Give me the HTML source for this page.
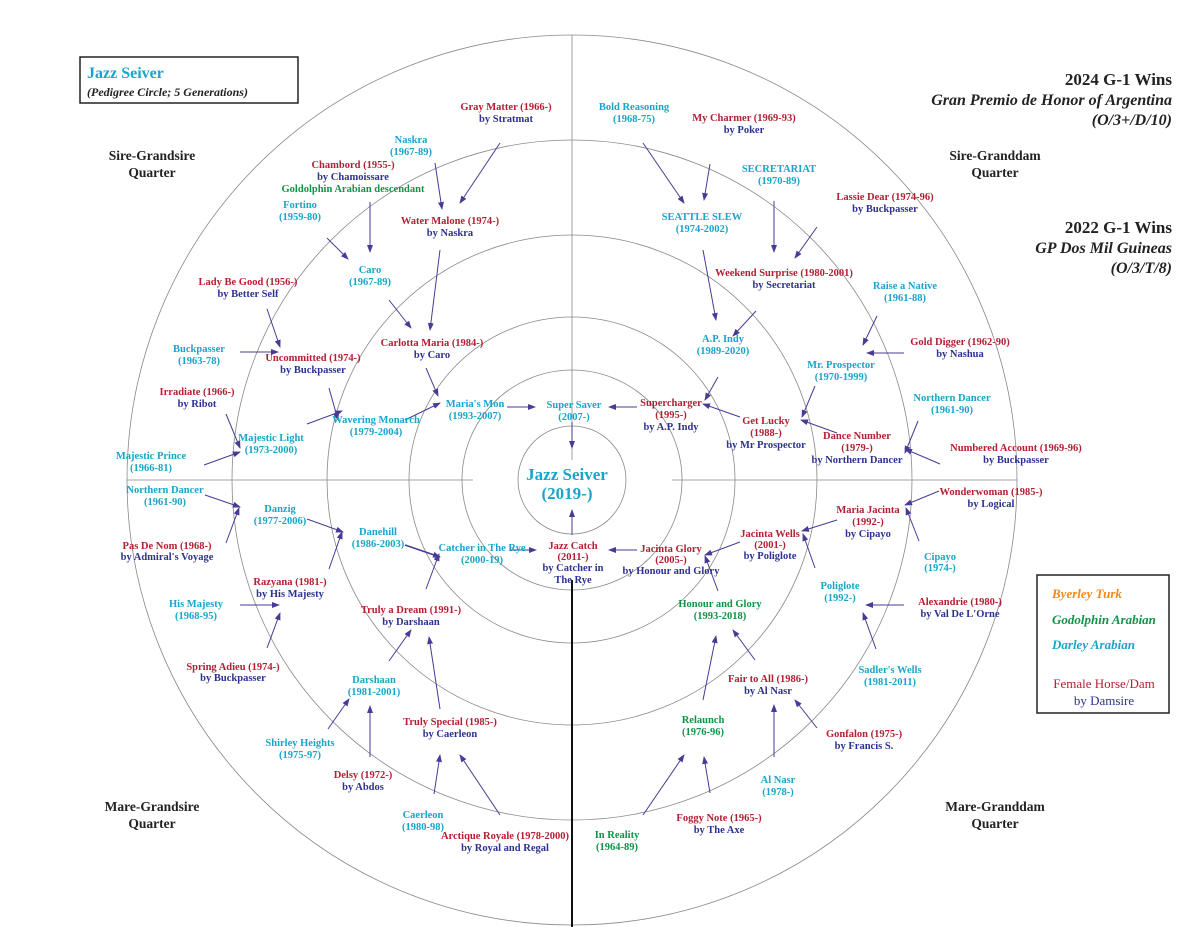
<!DOCTYPE html>
<html><head><meta charset="utf-8"><style>
html,body{margin:0;padding:0;background:#fff;}
svg{display:block;}
text{font-family:"Liberation Serif",serif;font-weight:bold;font-size:10.5px;text-anchor:middle;}
.r{fill:#b31f33}.b{fill:#2e3192}.c{fill:#18a5c9}.g{fill:#0f9447}
.q{font-size:13.5px;fill:#222}
.h{font-size:17px;fill:#222;text-anchor:end}
.hi{font-size:16px;fill:#222;text-anchor:end;font-style:italic}
</style></head><body>
<svg width="1200" height="927" viewBox="0 0 1200 927" xmlns="http://www.w3.org/2000/svg">
<defs><marker id="a" markerWidth="8" markerHeight="6" refX="7" refY="3" orient="auto" markerUnits="userSpaceOnUse"><path d="M0,0 L8,3 L0,6 z" fill="#4a3a96"/></marker></defs>
<g fill="none" stroke="#888" stroke-width="0.8">
<circle cx="572" cy="480" r="54"/><circle cx="572" cy="480" r="110"/><circle cx="572" cy="480" r="163"/>
<circle cx="572" cy="480" r="245"/><circle cx="572" cy="480" r="340"/><circle cx="572" cy="480" r="445"/>
<line x1="127" y1="480" x2="473" y2="480"/><line x1="672" y1="480" x2="1017" y2="480"/>
<line x1="572" y1="35" x2="572" y2="460"/>
</g>
<line x1="572" y1="580" x2="572" y2="927" stroke="#111" stroke-width="2"/>
<g stroke="#4a3a96" stroke-width="1" marker-end="url(#a)">
<line x1="500" y1="143" x2="460" y2="203"/><line x1="435" y1="163" x2="442" y2="209"/>
<line x1="370" y1="202" x2="370" y2="252"/><line x1="327" y1="238" x2="348" y2="259"/>
<line x1="440" y1="250" x2="430" y2="330"/><line x1="389" y1="300" x2="411" y2="328"/>
<line x1="426" y1="368" x2="438" y2="396"/><line x1="267" y1="309" x2="280" y2="347"/>
<line x1="240" y1="352" x2="278" y2="352"/><line x1="329" y1="388" x2="338" y2="420"/>
<line x1="507" y1="407" x2="535" y2="407"/><line x1="405" y1="420" x2="440" y2="403"/>
<line x1="226" y1="414" x2="240" y2="448"/><line x1="307" y1="424" x2="342" y2="411"/>
<line x1="204" y1="465" x2="240" y2="452"/><line x1="572" y1="422" x2="572" y2="448"/>
<line x1="643" y1="143" x2="684" y2="203"/><line x1="710" y1="164" x2="704" y2="200"/>
<line x1="774" y1="201" x2="774" y2="252"/><line x1="817" y1="227" x2="795" y2="258"/>
<line x1="703" y1="250" x2="716" y2="320"/><line x1="756" y1="311" x2="733" y2="336"/>
<line x1="718" y1="377" x2="705" y2="400"/><line x1="877" y1="316" x2="863" y2="345"/>
<line x1="904" y1="353" x2="867" y2="353"/><line x1="815" y1="386" x2="802" y2="417"/>
<line x1="637" y1="407" x2="609" y2="407"/><line x1="740" y1="417" x2="703" y2="404"/>
<line x1="837" y1="433" x2="801" y2="420"/><line x1="918" y1="421" x2="905" y2="453"/>
<line x1="940" y1="464" x2="905" y2="449"/>
<line x1="205" y1="495" x2="240" y2="507"/><line x1="226" y1="543" x2="239" y2="508"/>
<line x1="307" y1="519" x2="343" y2="532"/><line x1="329" y1="569" x2="342" y2="532"/>
<line x1="405" y1="545" x2="440" y2="557" stroke-width="1.6"/><line x1="510" y1="550" x2="536" y2="550"/>
<line x1="572" y1="535" x2="572" y2="510"/><line x1="240" y1="605" x2="279" y2="605"/>
<line x1="267" y1="648" x2="280" y2="613"/><line x1="426" y1="589" x2="439" y2="554"/>
<line x1="389" y1="661" x2="411" y2="630"/><line x1="440" y1="709" x2="429" y2="637"/>
<line x1="328" y1="729" x2="349" y2="699"/><line x1="370" y1="757" x2="370" y2="706"/>
<line x1="434" y1="794" x2="440" y2="755"/><line x1="500" y1="815" x2="460" y2="755"/>
<line x1="939" y1="491" x2="905" y2="505"/><line x1="837" y1="520" x2="802" y2="531"/>
<line x1="740" y1="542" x2="705" y2="555"/><line x1="637" y1="550" x2="609" y2="550"/>
<line x1="919" y1="541" x2="906" y2="508"/><line x1="815" y1="568" x2="803" y2="534"/>
<line x1="718" y1="591" x2="705" y2="556"/><line x1="904" y1="605" x2="866" y2="605"/>
<line x1="876" y1="649" x2="863" y2="613"/><line x1="755" y1="660" x2="733" y2="630"/>
<line x1="703" y1="700" x2="716" y2="636"/><line x1="817" y1="728" x2="795" y2="700"/>
<line x1="774" y1="757" x2="774" y2="705"/><line x1="710" y1="793" x2="704" y2="757"/>
<line x1="643" y1="815" x2="684" y2="755"/>
</g>
<rect x="80" y="57" width="218" height="46" fill="none" stroke="#222" stroke-width="1.5"/>
<text x="87" y="78" class="c" style="font-size:16px;text-anchor:start">Jazz Seiver</text>
<text x="87" y="96" style="font-size:12px;font-style:italic;text-anchor:start;fill:#222">(Pedigree Circle; 5 Generations)</text>
<text x="152" y="160" class="q">Sire-Grandsire</text><text x="152" y="177" class="q">Quarter</text>
<text x="995" y="160" class="q">Sire-Granddam</text><text x="995" y="177" class="q">Quarter</text>
<text x="152" y="811" class="q">Mare-Grandsire</text><text x="152" y="828" class="q">Quarter</text>
<text x="995" y="811" class="q">Mare-Granddam</text><text x="995" y="828" class="q">Quarter</text>
<text x="1172" y="85" class="h">2024 G-1 Wins</text>
<text x="1172" y="105" class="hi">Gran Premio de Honor of Argentina</text>
<text x="1172" y="125" class="hi">(O/3+/D/10)</text>
<text x="1172" y="233" class="h">2022 G-1 Wins</text>
<text x="1172" y="253" class="hi">GP Dos Mil Guineas</text>
<text x="1172" y="273" class="hi">(O/3/T/8)</text>
<rect x="1037" y="575" width="132" height="138" fill="none" stroke="#222" stroke-width="1.5"/>
<text x="1052" y="598" style="font-size:13px;font-style:italic;text-anchor:start;fill:#f08a1c">Byerley Turk</text>
<text x="1052" y="624" class="g" style="font-size:13px;font-style:italic;text-anchor:start">Godolphin Arabian</text>
<text x="1052" y="649" class="c" style="font-size:13px;font-style:italic;text-anchor:start">Darley Arabian</text>
<text x="1104" y="688" class="r" style="font-size:13px;font-weight:normal">Female Horse/Dam</text>
<text x="1104" y="705" class="b" style="font-size:13px;font-weight:normal">by Damsire</text>
<text x="567" y="480" class="c" style="font-size:17px">Jazz Seiver</text>
<text x="567" y="499" class="c" style="font-size:17px">(2019-)</text>
<g>
<text x="506" y="110" class="r">Gray Matter (1966-)</text><text x="506" y="122" class="b">by Stratmat</text>
<text x="634" y="110" class="c">Bold Reasoning</text><text x="634" y="122" class="c">(1968-75)</text>
<text x="744" y="121" class="r">My Charmer (1969-93)</text><text x="744" y="133" class="b">by Poker</text>
<text x="411" y="143" class="c">Naskra</text><text x="411" y="155" class="c">(1967-89)</text>
<text x="779" y="172" class="c">SECRETARIAT</text><text x="779" y="184" class="c">(1970-89)</text>
<text x="353" y="168" class="r">Chambord (1955-)</text><text x="353" y="180" class="b">by Chamoissare</text><text x="353" y="192" class="g">Goldolphin Arabian descendant</text>
<text x="885" y="200" class="r">Lassie Dear (1974-96)</text><text x="885" y="212" class="b">by Buckpasser</text>
<text x="300" y="208" class="c">Fortino</text><text x="300" y="220" class="c">(1959-80)</text>
<text x="450" y="224" class="r">Water Malone (1974-)</text><text x="450" y="236" class="b">by Naskra</text>
<text x="702" y="220" class="c">SEATTLE SLEW</text><text x="702" y="232" class="c">(1974-2002)</text>
<text x="370" y="273" class="c">Caro</text><text x="370" y="285" class="c">(1967-89)</text>
<text x="248" y="285" class="r">Lady Be Good (1956-)</text><text x="248" y="297" class="b">by Better Self</text>
<text x="784" y="276" class="r">Weekend Surprise (1980-2001)</text><text x="784" y="288" class="b">by Secretariat</text>
<text x="905" y="289" class="c">Raise a Native</text><text x="905" y="301" class="c">(1961-88)</text>
<text x="199" y="352" class="c">Buckpasser</text><text x="199" y="364" class="c">(1963-78)</text>
<text x="313" y="361" class="r">Uncommitted (1974-)</text><text x="313" y="373" class="b">by Buckpasser</text>
<text x="432" y="346" class="r">Carlotta Maria (1984-)</text><text x="432" y="358" class="b">by Caro</text>
<text x="723" y="342" class="c">A.P. Indy</text><text x="723" y="354" class="c">(1989-2020)</text>
<text x="960" y="345" class="r">Gold Digger (1962-90)</text><text x="960" y="357" class="b">by Nashua</text>
<text x="841" y="368" class="c">Mr. Prospector</text><text x="841" y="380" class="c">(1970-1999)</text>
<text x="197" y="395" class="r">Irradiate (1966-)</text><text x="197" y="407" class="b">by Ribot</text>
<text x="475" y="407" class="c">Maria's Mon</text><text x="475" y="419" class="c">(1993-2007)</text>
<text x="574" y="408" class="c">Super Saver</text><text x="574" y="420" class="c">(2007-)</text>
<text x="671" y="406" class="r">Supercharger</text><text x="671" y="418" class="r">(1995-)</text><text x="671" y="430" class="b">by A.P. Indy</text>
<text x="766" y="424" class="r">Get Lucky</text><text x="766" y="436" class="r">(1988-)</text><text x="766" y="448" class="b">by Mr Prospector</text>
<text x="952" y="401" class="c">Northern Dancer</text><text x="952" y="413" class="c">(1961-90)</text>
<text x="376" y="423" class="c">Wavering Monarch</text><text x="376" y="435" class="c">(1979-2004)</text>
<text x="271" y="441" class="c">Majestic Light</text><text x="271" y="453" class="c">(1973-2000)</text>
<text x="857" y="439" class="r">Dance Number</text><text x="857" y="451" class="r">(1979-)</text><text x="857" y="463" class="b">by Northern Dancer</text>
<text x="1016" y="451" class="r">Numbered Account (1969-96)</text><text x="1016" y="463" class="b">by Buckpasser</text>
<text x="151" y="459" class="c">Majestic Prince</text><text x="151" y="471" class="c">(1966-81)</text>
<text x="165" y="493" class="c">Northern Dancer</text><text x="165" y="505" class="c">(1961-90)</text>
<text x="280" y="512" class="c">Danzig</text><text x="280" y="524" class="c">(1977-2006)</text>
<text x="991" y="495" class="r">Wonderwoman (1985-)</text><text x="991" y="507" class="b">by Logical</text>
<text x="868" y="513" class="r">Maria Jacinta</text><text x="868" y="525" class="r">(1992-)</text><text x="868" y="537" class="b">by Cipayo</text>
<text x="378" y="535" class="c">Danehill</text><text x="378" y="547" class="c">(1986-2003)</text>
<text x="482" y="551" class="c">Catcher in The Rye</text><text x="482" y="563" class="c">(2000-19)</text>
<text x="573" y="549" class="r">Jazz Catch</text><text x="573" y="560" class="r">(2011-)</text><text x="573" y="571" class="b">by Catcher in</text><text x="573" y="583" class="b">The Rye</text>
<text x="671" y="552" class="r">Jacinta Glory</text><text x="671" y="563" class="r">(2005-)</text><text x="671" y="574" class="b">by Honour and Glory</text>
<text x="770" y="537" class="r">Jacinta Wells</text><text x="770" y="548" class="r">(2001-)</text><text x="770" y="559" class="b">by Poliglote</text>
<text x="167" y="549" class="r">Pas De Nom (1968-)</text><text x="167" y="560" class="b">by Admiral's Voyage</text>
<text x="940" y="560" class="c">Cipayo</text><text x="940" y="571" class="c">(1974-)</text>
<text x="290" y="585" class="r">Razyana (1981-)</text><text x="290" y="597" class="b">by His Majesty</text>
<text x="840" y="589" class="c">Poliglote</text><text x="840" y="601" class="c">(1992-)</text>
<text x="720" y="607" class="g">Honour and Glory</text><text x="720" y="619" class="g">(1993-2018)</text>
<text x="196" y="607" class="c">His Majesty</text><text x="196" y="619" class="c">(1968-95)</text>
<text x="960" y="605" class="r">Alexandrie (1980-)</text><text x="960" y="617" class="b">by Val De L'Orne</text>
<text x="411" y="613" class="r">Truly a Dream (1991-)</text><text x="411" y="625" class="b">by Darshaan</text>
<text x="233" y="670" class="r">Spring Adieu (1974-)</text><text x="233" y="681" class="b">by Buckpasser</text>
<text x="890" y="673" class="c">Sadler's Wells</text><text x="890" y="685" class="c">(1981-2011)</text>
<text x="374" y="683" class="c">Darshaan</text><text x="374" y="695" class="c">(1981-2001)</text>
<text x="768" y="682" class="r">Fair to All (1986-)</text><text x="768" y="694" class="b">by Al Nasr</text>
<text x="450" y="725" class="r">Truly Special (1985-)</text><text x="450" y="737" class="b">by Caerleon</text>
<text x="703" y="723" class="g">Relaunch</text><text x="703" y="735" class="g">(1976-96)</text>
<text x="864" y="737" class="r">Gonfalon (1975-)</text><text x="864" y="749" class="b">by Francis S.</text>
<text x="300" y="746" class="c">Shirley Heights</text><text x="300" y="758" class="c">(1975-97)</text>
<text x="363" y="778" class="r">Delsy (1972-)</text><text x="363" y="790" class="b">by Abdos</text>
<text x="778" y="783" class="c">Al Nasr</text><text x="778" y="795" class="c">(1978-)</text>
<text x="719" y="821" class="r">Foggy Note (1965-)</text><text x="719" y="833" class="b">by The Axe</text>
<text x="423" y="818" class="c">Caerleon</text><text x="423" y="830" class="c">(1980-98)</text>
<text x="505" y="839" class="r">Arctique Royale (1978-2000)</text><text x="505" y="851" class="b">by Royal and Regal</text>
<text x="617" y="838" class="g">In Reality</text><text x="617" y="850" class="g">(1964-89)</text>
</g>
</svg>
</body></html>
